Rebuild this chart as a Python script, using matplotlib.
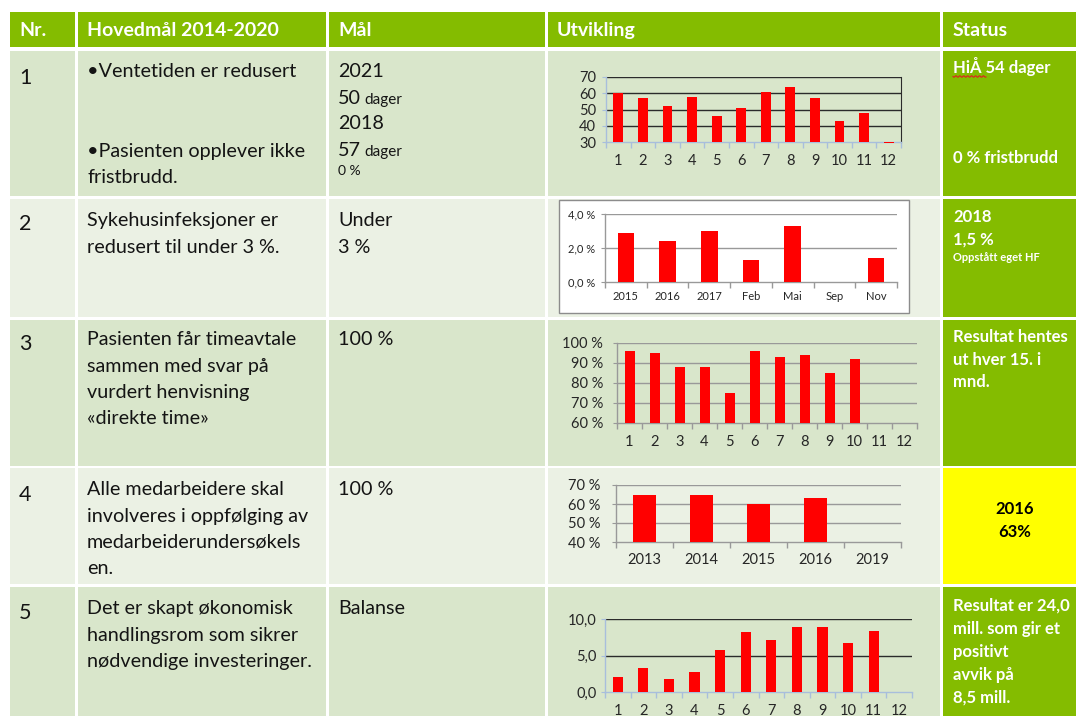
import numpy as np
import matplotlib.pyplot as plt
from matplotlib.patches import Rectangle
from matplotlib.ticker import FuncFormatter

plt.rcParams["font.family"] = ["Lato", "DejaVu Sans"]

# ---- data -------------------------------------------------------------
months = [str(m) for m in range(1, 13)]

wait_days = [60, 57, 52, 58, 46, 51, 61, 64, 57, 43, 48, 29.6]

infection_cats = ["2015", "2016", "2017", "Feb", "Mai", "Sep", "Nov"]
infection_pct = [2.9, 2.4, 3.0, 1.3, 3.3, 0.0, 1.4]

direct_pct = [96, 95, 88, 88, 75, 96, 93, 94, 85, 92, np.nan, np.nan]

survey_years = ["2013", "2014", "2015", "2016", "2019"]
survey_pct = [65, 65, 60, 63, np.nan]

result_mill = [2.1, 3.3, 1.8, 2.7, 5.8, 8.2, 7.1, 8.9, 8.9, 6.7, 8.4, np.nan]

headers = ["Nr.", "Hovedmål 2014-2020", "Mål", "Utvikling", "Status"]

# ---- colours / geometry ------------------------------------------------
GREEN = "#84BC00"
ROW_DARK = "#D9E6CB"
ROW_LIGHT = "#EBF1E4"
TXT = "#141414"
W, H = 1076, 716

col_x = [8, 76, 327, 546, 941, 1080]
head_y = (12, 47)
row_y = [(51, 196), (199, 317), (320, 466), (468, 584), (587, 720)]
row_fill = [ROW_DARK, ROW_LIGHT, ROW_DARK, ROW_LIGHT, ROW_DARK]
status_fill = [GREEN, GREEN, GREEN, "#FFFF00", GREEN]

fig = plt.figure(figsize=(W / 100, H / 100), dpi=100)
bg = fig.add_axes([0, 0, 1, 1], zorder=0)
bg.set_xlim(0, W)
bg.set_ylim(H, 0)
bg.axis("off")

GAP = 1.5
for i in range(5):
    x0, x1 = col_x[i] + GAP, col_x[i + 1] - GAP
    bg.add_patch(Rectangle((x0, head_y[0]), x1 - x0, head_y[1] - head_y[0],
                           facecolor=GREEN, lw=0))
for r, (y0, y1) in enumerate(row_y):
    for i in range(5):
        x0, x1 = col_x[i] + GAP, col_x[i + 1] - GAP
        fc = status_fill[r] if i == 4 else row_fill[r]
        bg.add_patch(Rectangle((x0, y0), x1 - x0, y1 - y0, facecolor=fc, lw=0))

head_x = [19, 87, 338, 557, 953]
for hx, ht in zip(head_x, headers):
    bg.text(hx, 36, ht, color="white", fontsize=14, fontweight="bold", va="baseline")


def txt(x, y, s, size=14.2, **kw):
    kw.setdefault("color", TXT)
    bg.text(x, y, s, fontsize=size, va="baseline", **kw)


# Nr column
for n, yb in zip("12345", [84, 230, 350, 501, 619]):
    txt(19, yb, n, size=15.5)

# Hovedmål column
goals = [
    [("•Ventetiden er redusert", 77), ("•Pasienten opplever ikke", 157), ("fristbrudd.", 183)],
    [("Sykehusinfeksjoner er", 226), ("redusert til under 3 %.", 253)],
    [("Pasienten får timeavtale", 345), ("sammen med svar på", 372),
     ("vurdert henvisning", 398), ("«direkte time»", 424)],
    [("Alle medarbeidere skal", 495), ("involveres i oppfølging av", 522),
     ("medarbeiderundersøkels", 548), ("en.", 574)],
    [("Det er skapt økonomisk", 614), ("handlingsrom som sikrer", 641),
     ("nødvendige investeringer.", 667)],
]
for lines in goals:
    for s, yb in lines:
        txt(87, yb, s)

# Mål column
txt(338, 77, "2021")
txt(338, 104, "50")
txt(364, 104, "dager", size=11)
txt(338, 129, "2018")
txt(338, 156, "57")
txt(364, 156, "dager", size=11)
txt(338, 175, "0 %", size=10)
txt(338, 226, "Under")
txt(338, 253, "3 %")
txt(338, 345, "100 %")
txt(338, 495, "100 %")
txt(338, 614, "Balanse")

# Status column
status_lines = [
    ("HiÅ 54 dager", 73), ("0 % fristbrudd", 163),
    ("2018", 222), ("1,5 %", 245),
    ("Resultat hentes", 342), ("ut hver 15. i", 365), ("mnd.", 387),
    ("Resultat er 24,0", 611), ("mill. som gir et", 634), ("positivt", 657),
    ("avvik på", 680), ("8,5 mill.", 703),
]
for s, yb in status_lines:
    bg.text(953, yb, s, color="white", fontsize=12, fontweight="bold", va="baseline")
bg.text(953, 261, "Oppstått eget HF", color="white", fontsize=8, fontweight="bold",
        va="baseline")
bg.text(1015, 514, "2016", color="black", fontsize=12, fontweight="bold",
        ha="center", va="baseline")
bg.text(1015, 537, "63%", color="black", fontsize=12, fontweight="bold",
        ha="center", va="baseline")
# spell-check squiggle under "HiÅ"
sx = np.linspace(953, 986, 40)
bg.plot(sx, 76.5 + 0.8 * np.sin((sx - 953) * 1.6), color="#E02020", lw=0.8)

# white box behind the infection chart
bg.add_patch(Rectangle((559, 200), 350, 113, facecolor="white",
                       edgecolor="#8C8C8C", lw=1.0))


# ---- small bar charts ----------------------------------------------------
def px_axes(x0, y0, x1, y1):
    return fig.add_axes([x0 / W, 1 - y1 / H, (x1 - x0) / W, (y1 - y0) / H],
                        zorder=2, facecolor="none")


def bar_chart(rect, cats, vals, ylim, yticks, fmt, grid_col, axis_col,
              lab_size, xpad, ypad, box=False):
    ax = px_axes(*rect)
    vals = np.asarray(vals, dtype=float)
    x = np.arange(len(cats))
    ax.bar(x, vals - ylim[0], bottom=ylim[0], width=0.4, color="#FF0000",
           clip_on=False, zorder=3)
    ax.set_xlim(-0.5, len(cats) - 0.5)
    ax.set_ylim(*ylim)
    ax.set_yticks(yticks)
    ax.yaxis.set_major_formatter(FuncFormatter(fmt))
    for yt in yticks[1:]:
        ax.axhline(yt, color=grid_col, lw=1.0, zorder=1)
    ax.set_xticks(x)
    ax.set_xticklabels(cats)
    ax.set_xticks(np.arange(len(cats) + 1) - 0.5, minor=True)
    ax.tick_params(axis="x", which="major", length=0, pad=xpad,
                   labelsize=lab_size, labelcolor="#262626")
    ax.tick_params(axis="x", which="minor", length=4, color=axis_col, width=1)
    ax.tick_params(axis="y", length=3, color=axis_col, pad=ypad,
                   labelsize=lab_size, labelcolor="#262626")
    for side in ("left", "bottom"):
        ax.spines[side].set_color(axis_col)
        ax.spines[side].set_linewidth(1.0)
    ax.spines["top"].set_visible(False)
    ax.spines["right"].set_visible(box)
    if box:
        ax.spines["right"].set_color(grid_col)
    return ax


def num_fmt(decimals, pct):
    def f(v, _):
        s = f"{v:.{decimals}f}".replace(".", ",")
        return s + " %" if pct else s
    return f


LIGHT_BLUE = "#A8BEDC"
GREY = "#999999"

bar_chart((606, 77, 901, 142), months, wait_days, (30, 70), [30, 40, 50, 60, 70],
          num_fmt(0, False), "#2B2B2B", LIGHT_BLUE, 10.5, 8.5, 4, box=True)

bar_chart((605, 214, 897, 282), infection_cats, infection_pct, (0, 4), [0, 2, 4],
          num_fmt(1, True), GREY, GREY, 8, 6.5, 4)

bar_chart((617, 343, 917, 423), months, direct_pct, (60, 100), [60, 70, 80, 90, 100],
          num_fmt(0, True), GREY, GREY, 10.5, 8.5, 7)

bar_chart((616, 485, 901, 542), survey_years, survey_pct, (40, 70), [40, 50, 60, 70],
          num_fmt(0, True), GREY, GREY, 10.5, 8, 8)

bar_chart((605, 619, 912, 692), months, result_mill, (0, 10), [0, 5, 10],
          num_fmt(1, False), "#2B2B2B", LIGHT_BLUE, 10.5, 8.5, 3)

fig.savefig("out.png", dpi=100)
